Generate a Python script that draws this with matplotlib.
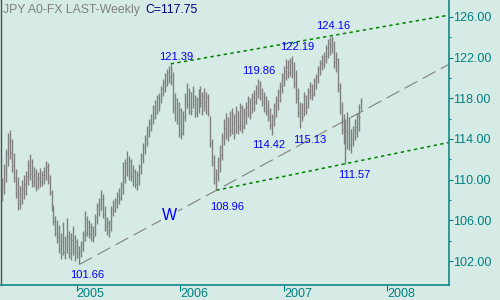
import numpy as np
import pandas as pd
import matplotlib
matplotlib.use('Agg')
import matplotlib.pyplot as plt
import matplotlib.dates as mdates

# weekly USD/JPY bars, first week starting 2004-04-12
first_week = '2004-04-12'
highs = [110.2, 111.5, 113.0, 114.6, 114.9, 114.0, 112.6, 111.0, 110.3, 109.4,
         110.0, 110.5, 110.9, 111.9, 112.5, 112.0, 111.2, 111.0, 110.8, 111.1,
         110.9, 111.2, 111.8, 111.6, 110.5, 109.0, 107.5, 106.4, 106.0, 105.5,
         104.8, 105.8, 104.5, 106.2, 105.0, 104.8, 105.4, 104.6, 104.2, 103.5,
         104.0, 105.0, 106.9, 106.4, 106.0, 105.7, 105.4, 106.6, 107.7, 108.2,
         109.0, 108.6, 107.4, 106.3, 106.0, 107.4, 108.0, 108.2, 108.8, 109.2,
         109.8, 111.7, 112.0, 112.8, 112.3, 112.0, 111.4, 111.0, 110.9, 111.5,
         112.6, 113.6, 114.4, 115.3, 116.0, 116.5, 117.3, 117.8, 118.3, 118.5,
         119.2, 119.9, 120.5, 120.9, 121.2, 121.39, 120.6, 118.5, 118.0, 117.6,
         117.0, 116.8, 118.5, 119.5, 119.0, 118.6, 119.2, 118.3, 118.1, 118.9,
         119.2, 118.6, 119.0, 118.6, 118.4, 116.3, 114.0, 112.4, 111.0, 112.2,
         113.4, 114.6, 116.0, 116.6, 116.2, 116.8, 117.0, 116.5, 117.2, 116.8,
         117.5, 117.3, 117.0, 117.6, 118.2, 118.0, 118.5, 118.8, 119.3, 119.86,
         119.7, 119.0, 118.6, 118.2, 117.8, 117.0, 116.5, 117.5, 118.2, 118.9,
         119.6, 120.5, 121.2, 121.9, 121.8, 122.0, 122.19, 121.6, 120.8, 119.0,
         117.6, 117.5, 118.6, 118.3, 119.0, 119.6, 119.4, 120.0, 120.4, 121.2,
         121.8, 122.3, 122.6, 123.2, 123.8, 124.0, 124.16, 123.6, 122.6, 122.0,
         119.5, 117.6, 116.5, 116.0, 116.7, 116.2, 115.0, 115.3, 116.0, 116.6,
         117.4, 118.0]
lows = [107.9, 108.6, 109.8, 111.3, 112.0, 110.8, 109.8, 108.2, 107.0, 107.1,
        107.6, 108.1, 108.5, 109.5, 110.0, 109.3, 109.3, 108.9, 109.1, 109.3,
        109.4, 109.6, 110.0, 109.6, 108.5, 106.9, 105.5, 104.5, 103.8, 102.8,
        102.2, 102.6, 102.2, 102.8, 102.3, 102.1, 102.6, 102.0, 102.3, 101.66,
        102.4, 103.0, 104.0, 104.5, 104.3, 104.0, 103.9, 104.5, 105.6, 106.4,
        107.0, 106.2, 105.0, 104.6, 104.4, 105.0, 106.4, 106.8, 107.2, 107.6,
        108.0, 108.6, 109.7, 110.4, 110.0, 109.9, 109.4, 109.2, 109.0, 109.5,
        110.6, 111.6, 112.5, 113.3, 114.2, 114.8, 115.5, 116.0, 116.5, 116.8,
        117.5, 118.2, 118.6, 119.2, 119.5, 119.3, 116.6, 115.8, 115.5, 114.2,
        114.0, 114.4, 115.8, 117.0, 116.5, 116.4, 117.0, 116.2, 116.2, 116.6,
        117.1, 116.4, 116.8, 116.5, 116.3, 113.2, 111.3, 109.6, 108.96, 109.9,
        110.8, 111.9, 113.4, 114.0, 113.8, 114.3, 114.5, 114.0, 114.6, 114.5,
        114.8, 114.6, 115.0, 115.5, 116.2, 116.0, 116.6, 116.8, 117.4, 118.0,
        117.8, 117.2, 116.7, 116.4, 115.8, 115.0, 114.42, 115.3, 116.2, 116.9,
        117.6, 118.5, 119.2, 119.8, 120.0, 120.2, 120.0, 119.0, 117.5, 116.2,
        115.13, 115.8, 116.3, 116.5, 117.0, 117.9, 117.8, 118.2, 118.9, 119.5,
        120.3, 120.8, 121.0, 121.5, 122.0, 122.3, 122.5, 121.0, 120.6, 118.6,
        116.5, 114.5, 113.5, 111.57, 113.0, 112.9, 112.6, 113.3, 113.9, 114.2,
        114.8, 116.9]
closes = [109.6, 110.9, 112.6, 113.8, 112.6, 111.3, 110.2, 108.7, 107.6, 108.6,
          109.1, 109.6, 110.4, 111.4, 110.6, 109.8, 110.7, 109.4, 110.2, 109.9,
          110.5, 110.9, 111.2, 109.9, 108.8, 107.2, 105.9, 104.8, 104.4, 103.2,
          103.9, 102.9, 103.8, 104.5, 102.8, 104.1, 103.0, 103.9, 102.8, 103.0,
          103.7, 104.7, 104.9, 105.8, 104.7, 105.3, 104.4, 106.3, 107.4, 107.0,
          108.1, 106.5, 105.4, 105.7, 104.9, 107.1, 106.9, 107.9, 108.4, 108.2,
          109.5, 110.3, 111.6, 111.0, 111.8, 110.4, 110.9, 109.6, 110.5, 111.2,
          112.3, 113.2, 114.0, 114.8, 115.6, 115.3, 117.0, 116.6, 118.0, 117.3,
          118.9, 119.5, 119.2, 120.6, 120.1, 120.9, 117.0, 117.9, 116.0, 116.9,
          114.5, 116.2, 118.1, 117.4, 118.6, 116.8, 118.7, 116.6, 117.8, 118.4,
          117.5, 118.2, 117.2, 118.1, 116.6, 113.6, 111.7, 110.2, 110.6, 111.8,
          112.4, 114.2, 115.1, 114.5, 115.9, 114.9, 116.6, 114.6, 116.8, 115.2,
          117.1, 115.3, 116.6, 117.1, 117.7, 116.5, 118.1, 117.6, 119.0, 118.5,
          119.2, 117.6, 118.1, 116.8, 116.2, 115.4, 116.2, 117.2, 117.8, 118.6,
          119.2, 120.1, 120.7, 121.1, 120.6, 121.6, 121.0, 119.4, 118.0, 116.6,
          117.3, 116.2, 118.2, 117.0, 118.7, 119.2, 118.4, 119.7, 120.1, 120.9,
          121.5, 121.4, 122.2, 122.9, 123.4, 123.1, 123.8, 121.6, 121.9, 119.0,
          116.9, 115.0, 114.2, 114.8, 115.9, 113.4, 114.0, 114.9, 115.2, 116.3,
          116.2, 117.75]

# pivots: (week index, high or low)
pivot_idx = [39, 108, 85, 129, 136, 146, 150, 166, 173]
pivot_kind = ['L', 'L', 'H', 'H', 'L', 'H', 'L', 'H', 'L']
# label offsets from the pivot in pixels (centre x, baseline y)
pivot_off = [(8, -14), (11, -20), (5, 4), (1, 5), (-3, -13), (5, 6), (10, -15), (2, 7), (9, -14)]

BG = '#d6ebe6'
TEAL = '#008080'
GRAY = '#808080'

plt.rcParams['font.family'] = ['Liberation Sans', 'DejaVu Sans']

dates = pd.date_range(first_week, periods=len(highs), freq='7D')
x = mdates.date2num(dates)

fig = plt.figure(figsize=(5, 3), dpi=100, facecolor=BG)
ax = fig.add_axes([0.002, 0.05, 0.895, 0.95], facecolor=BG)

# bars: high-low line plus close tick
ax.vlines(x, lows, highs, color=GRAY, lw=1.0, zorder=3)
ax.hlines(closes, x, x + 3.5, color=GRAY, lw=0.8, zorder=3)

xmin = mdates.date2num(pd.Timestamp('2004-04-09'))
xmax = mdates.date2num(pd.Timestamp('2008-08-03'))


def pivot_val(k):
    i = pivot_idx[k]
    return highs[i] if pivot_kind[k] == 'H' else lows[i]


def trend(k1, k2, **kw):
    i1, i2 = pivot_idx[k1], pivot_idx[k2]
    p1, p2 = pivot_val(k1), pivot_val(k2)
    slope = (p2 - p1) / (x[i2] - x[i1])
    ax.plot([x[i1], xmax], [p1, p1 + slope * (xmax - x[i1])], zorder=2, **kw)


# gray dashed channel line and green dotted lines
trend(0, 1, color=GRAY, lw=0.8, dashes=(13, 5.5))
trend(2, 7, color='#008000', lw=1.1, dashes=(2.2, 2.2))
trend(1, 8, color='#008000', lw=1.1, dashes=(2.2, 2.2))

for k in range(len(pivot_idx)):
    i = pivot_idx[k]
    v = pivot_val(k)
    ax.annotate('%.2f' % v, xy=(x[i], v), xytext=pivot_off[k], textcoords='offset pixels',
                ha='center', va='baseline', fontsize=8, color='#0000ff', zorder=5)

ax.set_xlim(xmin, xmax)
ax.set_ylim(99.64, 127.67)

# axes styling
ax.spines['top'].set_visible(False)
ax.spines['left'].set_color('#505050')
ax.spines['left'].set_linewidth(1.0)
for s in ['right', 'bottom']:
    ax.spines[s].set_color(TEAL)
    ax.spines[s].set_linewidth(1.1)

ax.yaxis.tick_right()
ax.set_yticks(np.arange(102, 127, 4))
ax.set_yticks(np.arange(104, 127, 4), minor=True)
ax.yaxis.set_major_formatter(plt.FormatStrFormatter('%.2f'))
ax.tick_params(axis='y', which='major', colors=TEAL, length=3, width=0.8, pad=0.5, labelsize=9)
ax.tick_params(axis='y', which='minor', colors=TEAL, length=1.6, width=0.8)

ax.xaxis.set_major_locator(mdates.YearLocator())
ax.xaxis.set_major_formatter(mdates.DateFormatter('%Y'))
ax.tick_params(axis='x', colors=TEAL, length=4, width=0.8, pad=-1.5, labelsize=9)
for lab in ax.get_xticklabels():
    lab.set_horizontalalignment('left')

# title line
fig.text(3 / 500, 1 - 12.7 / 300, 'JPY A0-FX LAST-Weekly', color=GRAY, fontsize=8.8, va='baseline')
fig.text(145 / 500, 1 - 12.7 / 300, 'C=%.2f' % closes[-1], color='#000080', fontsize=8.8, va='baseline')
fig.text(169.5 / 500, 1 - 220 / 300, 'W', color='#0000ff', fontsize=11.5, ha='center', va='baseline',
         bbox=dict(facecolor=BG, edgecolor='none', pad=0.3))

fig.savefig('out.png', dpi=100, facecolor=BG)
